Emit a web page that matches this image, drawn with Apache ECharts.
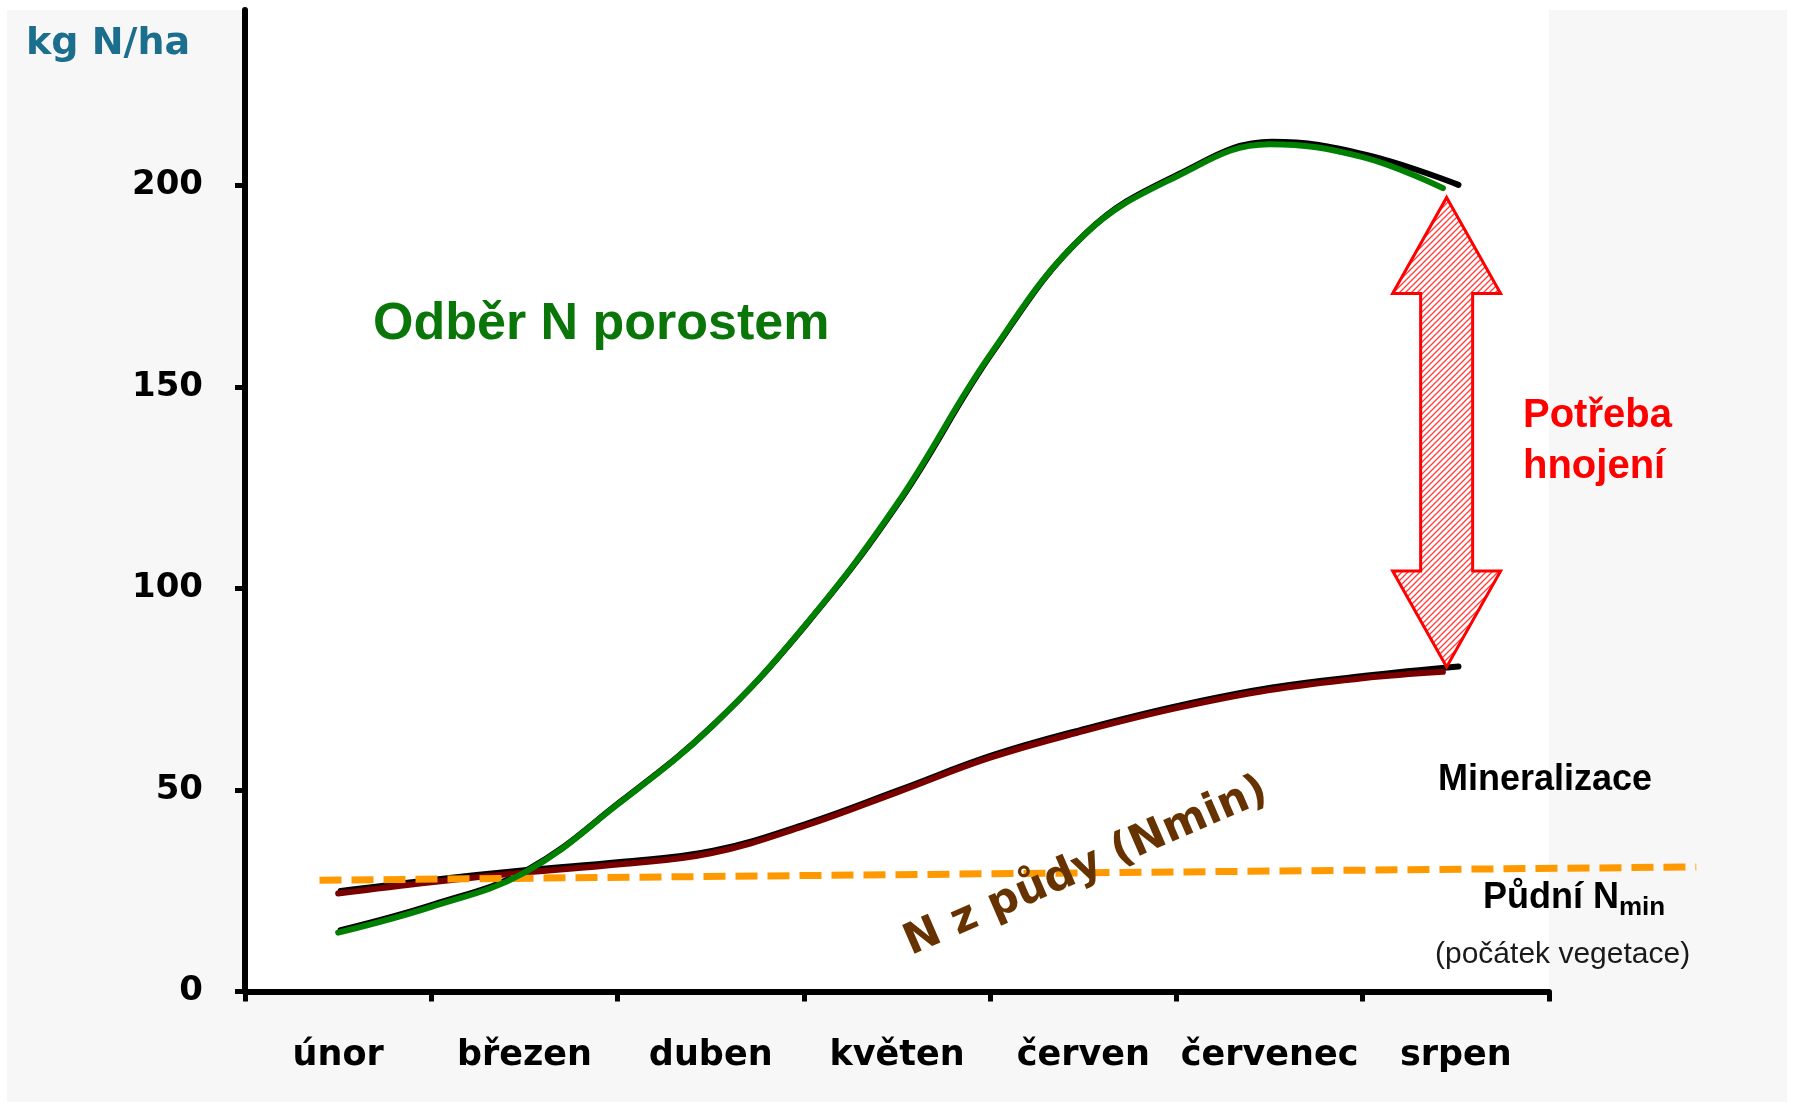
<!DOCTYPE html>
<html>
<head>
<meta charset="utf-8">
<title>Odběr N porostem</title>
<script src="https://cdn.jsdelivr.net/npm/echarts@6/dist/echarts.min.js"></script>
<style>
  html, body { margin: 0; padding: 0; background: #fff; }
  #wrap { position: relative; width: 1795px; height: 1107px; background: #fff; }
  #paper { position: absolute; left: 7px; top: 10px; width: 1780px; height: 1092px; background: #f7f7f7; }
  #chart { position: absolute; left: 0; top: 0; width: 1795px; height: 1107px; }
</style>
</head>
<body>
<div id="wrap"><div id="paper"></div><div id="chart"></div></div>
<script>
// mesice na ose x
const months = ['únor', 'březen', 'duben', 'květen', 'červen', 'červenec', 'srpen']
const yTicks = [0, 50, 100, 150, 200]

// krivky: poloha v mesicich (0 = zacatek unora), kg N/ha
const uptakeT = [0.5, 1.0, 1.5, 2.0, 2.5, 3.0, 3.5, 4.0, 4.5, 5.0, 5.5, 6.0, 6.43]
const uptakeN = [14.6, 21.0, 29.5, 46.4, 65.5, 90.5, 121.0, 158.0, 187.5, 202.2, 210.2, 207.0, 199.3]
const soilT = [0.5, 1.0, 1.5, 2.0, 2.5, 3.0, 3.5, 4.0, 4.5, 5.0, 5.5, 6.0, 6.43]
const soilN = [24.3, 27.1, 29.5, 31.5, 34.3, 41.0, 49.4, 58.0, 64.6, 70.3, 74.8, 77.7, 79.3]

// konec cernych (puvodnich) krivek ve stredu srpna
const endT = [6.5]
const uptakeEnd = [199.5]
const soilEnd = [80.0]

// pudni Nmin na pocatku vegetace
const nminT = [0.40, 7.79]
const nminN = [27.6, 30.9]

// sipka potreby hnojeni
const gapT = [6.45]
const gapTop = [197]
const gapBottom = [80.5]

const pairs = (t, v) => t.map((x, i) => [x, v[i]])

function hatchCanvas() {
  const c = document.createElement('canvas')
  c.width = 6
  c.height = 6
  const ctx = c.getContext('2d')
  ctx.fillStyle = '#fff'
  ctx.fillRect(0, 0, 6, 6)
  ctx.strokeStyle = '#ff3b3b'
  ctx.lineWidth = 1.3
  ctx.beginPath()
  ctx.moveTo(0, 6); ctx.lineTo(6, 0)
  ctx.moveTo(-3, 3); ctx.lineTo(3, -3)
  ctx.moveTo(3, 9); ctx.lineTo(9, 3)
  ctx.stroke()
  return c
}
const hatch = hatchCanvas()

const chart = echarts.init(document.getElementById('chart'))

function txt(text, x, y, size, color, family, weight) {
  return {
    type: 'text',
    x: x,
    y: y,
    z: 100,
    style: {
      text: text,
      fill: color,
      fontSize: size,
      fontFamily: family,
      fontWeight: weight,
      align: 'left',
      textAlign: 'left',
      verticalAlign: 'middle',
      textVerticalAlign: 'middle'
    }
  }
}

// cerna cara pod barevnou, o kousek posunuta (vlastni mrizka)
function blackData(t, v, endV) {
  return pairs(t.slice(0, -1), v.slice(0, -1)).concat(pairs(endT, endV))
}

let option = {
  animation: false,
  backgroundColor: 'transparent',
  grid: [{
    left: 245,
    right: 246,
    top: 10,
    bottom: 115.5,
    show: true,
    backgroundColor: '#fff',
    borderWidth: 0,
    outerBoundsMode: 'none'
  }, {
    // stejne meritko, jen delsi - pro carkovanou caru za koncem osy
    left: 245,
    right: 59.6,
    top: 10,
    bottom: 115.5,
    show: false,
    outerBoundsMode: 'none'
  }, {
    // posun cernych car doprava nahoru
    left: 247.5,
    right: 57.1,
    top: 7.5,
    bottom: 118,
    show: false,
    outerBoundsMode: 'none'
  }],
  xAxis: [{
    type: 'category',
    gridIndex: 0,
    data: months,
    boundaryGap: true,
    axisLine: { show: true, lineStyle: { color: '#000', width: 6 } },
    axisTick: { show: true, length: 10, lineStyle: { color: '#000', width: 5 } },
    axisLabel: {
      interval: 0,
      margin: 47,
      color: '#000',
      fontFamily: 'DejaVu Sans',
      fontWeight: 'bold',
      fontSize: 35
    },
    splitLine: { show: false }
  }, {
    type: 'value',
    gridIndex: 1,
    min: 0,
    max: 8,
    show: false
  }, {
    type: 'value',
    gridIndex: 2,
    min: 0,
    max: 8,
    show: false
  }],
  yAxis: [{
    type: 'value',
    gridIndex: 0,
    min: 0,
    max: 243.5,
    interval: 50,
    axisLine: { show: true, lineStyle: { color: '#000', width: 6 } },
    axisTick: { show: true, length: 10, customValues: yTicks, lineStyle: { color: '#000', width: 5 } },
    axisLabel: {
      customValues: yTicks,
      margin: 42,
      color: '#000',
      fontFamily: 'DejaVu Sans',
      fontWeight: 'bold',
      fontSize: 34
    },
    splitLine: { show: false }
  }, {
    type: 'value',
    gridIndex: 1,
    min: 0,
    max: 243.5,
    show: false
  }, {
    type: 'value',
    gridIndex: 2,
    min: 0,
    max: 243.5,
    show: false
  }],
  series: [{
    name: 'odber-cerna',
    type: 'line',
    xAxisIndex: 2,
    yAxisIndex: 2,
    data: blackData(uptakeT, uptakeN, uptakeEnd),
    smooth: 0.4,
    symbol: 'none',
    silent: true,
    z: 2,
    lineStyle: { color: '#000', width: 6, cap: 'round' }
  }, {
    name: 'puda-cerna',
    type: 'line',
    xAxisIndex: 2,
    yAxisIndex: 2,
    data: blackData(soilT, soilN, soilEnd),
    smooth: 0.4,
    symbol: 'none',
    silent: true,
    z: 2,
    lineStyle: { color: '#000', width: 6, cap: 'round' }
  }, {
    name: 'N z pudy',
    type: 'line',
    xAxisIndex: 1,
    yAxisIndex: 1,
    data: pairs(soilT, soilN),
    smooth: 0.4,
    symbol: 'none',
    z: 3,
    lineStyle: { color: '#7a0000', width: 6, cap: 'round' }
  }, {
    name: 'Pudni Nmin',
    type: 'line',
    xAxisIndex: 1,
    yAxisIndex: 1,
    data: pairs(nminT, nminN),
    symbol: 'none',
    z: 4,
    lineStyle: { color: '#ff9900', width: 7, type: [22, 10] }
  }, {
    name: 'Odber N porostem',
    type: 'line',
    xAxisIndex: 1,
    yAxisIndex: 1,
    data: pairs(uptakeT, uptakeN),
    smooth: 0.4,
    symbol: 'none',
    z: 5,
    lineStyle: { color: '#008000', width: 6, cap: 'round' }
  }, {
    name: 'Potreba hnojeni',
    type: 'custom',
    xAxisIndex: 1,
    yAxisIndex: 1,
    clip: false,
    z: 6,
    encode: { x: 0, y: [1, 2] },
    data: gapT.map((t, i) => [t, gapTop[i], gapBottom[i]]),
    renderItem: function (params, api) {
      const top = api.coord([api.value(0), api.value(1)])
      const bottom = api.coord([api.value(0), api.value(2)])
      const cx = top[0]
      const head = 96
      const hw = 54
      const sw = 26
      const pts = [
        [cx, top[1]], [cx + hw, top[1] + head], [cx + sw, top[1] + head],
        [cx + sw, bottom[1] - head], [cx + hw, bottom[1] - head], [cx, bottom[1]],
        [cx - hw, bottom[1] - head], [cx - sw, bottom[1] - head],
        [cx - sw, top[1] + head], [cx - hw, top[1] + head]
      ]
      return {
        type: 'polygon',
        shape: { points: pts },
        style: {
          fill: { image: hatch, repeat: 'repeat' },
          stroke: '#ff0000',
          lineWidth: 3,
          lineJoin: 'miter'
        }
      }
    }
  }],
  graphic: [
    txt('kg N/ha', 26, 44.5, 38, '#1b6e8c', 'DejaVu Sans', 'bold'),
    txt('Odběr N porostem', 373, 325, 52, '#0a760a', 'Liberation Sans', 'bold'),
    txt('Potřeba', 1523, 415.5, 40, '#ff0000', 'Liberation Sans', 'bold'),
    txt('hnojení', 1523, 466.5, 40, '#ff0000', 'Liberation Sans', 'bold'),
    txt('Mineralizace', 1438, 780.5, 36, '#000', 'Liberation Sans', 'bold'),
    txt('Půdní N', 1483, 898.5, 36, '#000', 'Liberation Sans', 'bold'),
    txt('min', 1619, 908, 26, '#000', 'Liberation Sans', 'bold'),
    txt('(počátek vegetace)', 1435, 954.6, 30, '#1a1a1a', 'Liberation Sans', 'normal'),
    {
      type: 'text',
      x: 1086,
      y: 867,
      rotation: 0.41,
      z: 100,
      style: {
        text: 'N z půdy (Nmin)',
        fill: '#663300',
        fontSize: 43,
        fontFamily: 'DejaVu Sans',
        fontWeight: 'bold',
        align: 'center',
        textAlign: 'center',
        verticalAlign: 'middle',
        textVerticalAlign: 'middle'
      }
    }
  ]
}

console.log('option', option)
chart.setOption(option)
</script>
</body>
</html>
